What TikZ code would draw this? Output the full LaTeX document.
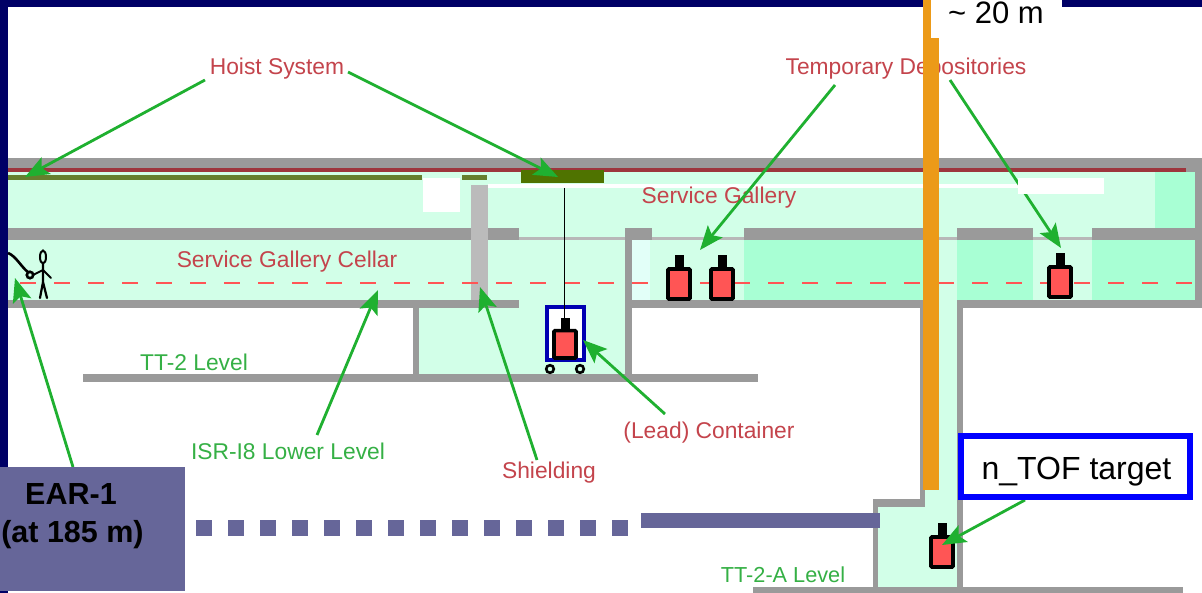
\documentclass[tikz,border=0pt]{standalone}
\usepackage{fontspec}
\setmainfont{Liberation Sans}
\usetikzlibrary{arrows.meta}
\definecolor{navy}{HTML}{000066}
\definecolor{mint}{HTML}{D2FFE8}
\definecolor{mintd}{HTML}{A8FFD4}
\definecolor{mintl}{HTML}{E2FFF8}
\definecolor{wall}{HTML}{9A9A9A}
\definecolor{shield}{HTML}{BBBBBB}
\definecolor{purp}{HTML}{666699}
\definecolor{ora}{HTML}{EC9A18}
\definecolor{olive}{HTML}{4F7300}
\definecolor{redl}{HTML}{C4444C}
\definecolor{grn}{HTML}{1FB030}
\definecolor{grt}{HTML}{35B045}
\definecolor{caskred}{HTML}{FF5555}
\tikzset{
  x=1pt,y=-1pt,
  arr/.style={draw=grn,line width=2.8pt,-{Stealth[length=24pt,width=19pt,inset=5pt]}},
  redlab/.style={text=redl,font=\fontsize{22.8}{24}\selectfont,inner sep=0pt},
  grnlab/.style={text=grt,font=\fontsize{22.8}{24}\selectfont,inner sep=0pt},
  wallf/.style={fill=wall,draw=none},
  pics/cask/.style={code={
    \fill[black] (-4.5,-44) rectangle (4.5,-28);
    \draw[black,line width=3.6pt,fill=caskred,rounded corners=1pt] (-11,-30) rectangle (11,0);
  }}
}
\begin{document}
\begin{tikzpicture}
\useasboundingbox (0,0) rectangle (1202,593);
\fill[white] (0,0) rectangle (1202,593);
% frame
\fill[navy] (0,0) rectangle (1202,7);
\fill[navy] (0,0) rectangle (8,593);
% service gallery
\fill[mint] (8,172) rectangle (1195,228);
\fill[mintd] (1155,172) rectangle (1195,228);
% cellar
\fill[mint] (8,240) rectangle (632,300);
\fill[mint] (418,300) rectangle (625,375);
\fill[mintl] (632,240) rectangle (650,300);
\fill[mint] (650,240) rectangle (744,300);
\fill[mintd] (744,240) rectangle (1195,300);
\fill[mint] (925,228) rectangle (957,590);
\fill[mint] (1033,228) rectangle (1092,300);
\fill[mint] (878,505) rectangle (957,588);
\fill[mint] (519,228) rectangle (625,240);
\fill[mint] (652,228) rectangle (744,240);
% walls
\fill[wallf] (8,158) rectangle (1202,172);
\fill[wallf] (1195,158) rectangle (1202,308);
\fill[wallf] (8,228) rectangle (519,240);
\fill[wallf] (625,228) rectangle (652,240);
\fill[wallf] (744,228) rectangle (923,240);
\fill[wallf] (957,228) rectangle (1033,240);
\fill[wallf] (1092,228) rectangle (1195,240);
\fill[wall!70] (519,237) rectangle (625,240);
\fill[wall!70] (652,237) rectangle (744,240);
\fill[wall!70] (923,237) rectangle (957,240);
\fill[wall!70] (1033,237) rectangle (1092,240);
\fill[wallf] (8,300) rectangle (519,308);
\fill[wallf] (632,300) rectangle (925,308);
\fill[wallf] (957,300) rectangle (1195,308);
\fill[wallf] (413,308) rectangle (419,375);
\fill[wallf] (625,228) rectangle (632,375);
\fill[wallf] (83,374) rectangle (758,382);
\fill[wallf] (920,300) rectangle (925,507);
\fill[wallf] (957,300) rectangle (963,590);
\fill[wallf] (873,499) rectangle (925,507);
\fill[wallf] (873,499) rectangle (878,590);
\fill[wallf] (753,587) rectangle (1183,593);
% shielding
\fill[shield] (471,185) rectangle (488,300);
% rails
\fill[redl!80!black] (8,168.5) rectangle (1186,172.5);
\fill[olive!70!wall] (8,175) rectangle (422,180);
\fill[olive!70!wall] (462,175) rectangle (487,180);
\fill[white] (423,178) rectangle (460,212);
\fill[white] (488,184.5) rectangle (1018,188);
% hoist
\node[fill=olive,minimum width=83pt,minimum height=13pt,inner sep=0pt] (hoistblock) at (562.5,176.5) {};
% dashed beam line
\coordinate (beamL) at (20,283);
\coordinate (beamR) at (1195,283);
\draw[draw=caskred,line width=1.8pt,dash pattern=on 16pt off 18pt] (beamL) -- (beamR);
% casks
\pic at (679,299) {cask};
\pic at (722,299) {cask};
\pic at (1060,297) {cask};
\pic at (942,567) {cask};
% container
\node[draw=blue!70!black,line width=4pt,fill=white,minimum width=37pt,minimum height=53pt,inner sep=0pt] (container) at (565,333.5) {};
\pic[yscale=0.91] at (565,358) {cask};
\draw[black,line width=2.6pt] (550,369) circle (3.8);
\draw[black,line width=2.6pt] (580,369) circle (3.8);
\coordinate (hookA) at (564.5,188);
\coordinate (hookB) at (564.5,320);
\draw[black,line width=1.8pt] (hookA) -- (hookB);
% person
\draw[black,line width=2pt] (43,257) ellipse (3 and 6.5);
\draw[black,line width=2.2pt,line cap=round] (43,263) -- (43,282) -- (40,298) (43,282) -- (47,298);
\draw[black,line width=2pt,line cap=round] (43,270) -- (33,275) (43,270) -- (51,278);
\draw[black,line width=2.6pt] (8,253) .. controls (16,256) and (22,268) .. (28,272);
\draw[black,line width=2.6pt] (30,275) circle (3.2);
% labels
\node[redlab] (hoist) at (277,68.5) {Hoist System};
\node[redlab] (temp) at (906,68.5) {Temporary Depositories};
\node[redlab] (sg) at (719,197.5) {Service Gallery};
\node[redlab] (sgc) at (287,262) {Service Gallery Cellar};
\node[grnlab] (tt2) at (194,362) {TT-2 Level};
\node[grnlab] (isr) at (288,451) {ISR-I8 Lower Level};
\node[redlab] (shieldlab) at (549,472.5) {Shielding};
\node[redlab] (lead) at (709,432.5) {(Lead) Container};
\node[grnlab,font=\fontsize{21.7}{24}\selectfont] (tt2a) at (783,575) {TT-2-A Level};
% arrow ends
\coordinate (h1s) at (205,80);
\coordinate (h1e) at (25,177);
\coordinate (h2s) at (348,72);
\coordinate (h2e) at (558,177);
\coordinate (d1s) at (835,85);
\coordinate (d1e) at (700,250);
\coordinate (d2s) at (950,80);
\coordinate (d2e) at (1061,248);
\coordinate (c1s) at (73,467);
\coordinate (c1e) at (15,278);
\coordinate (i1s) at (317,435);
\coordinate (i1e) at (378,290);
\coordinate (s1s) at (537,460);
\coordinate (s1e) at (480,287);
\coordinate (l1s) at (665,414);
\coordinate (l1e) at (583,340);
\coordinate (t1s) at (1025,500);
\coordinate (t1e) at (942,545);
\draw[arr] (h1s) -- (h1e);
\draw[arr] (h2s) -- (h2e);
\draw[arr] (d1s) -- (d1e);
\draw[arr] (d2s) -- (d2e);
\fill[white] (1018,178) rectangle (1104,194);
\draw[arr] (c1s) -- (c1e);
\draw[arr] (i1s) -- (i1e);
\draw[arr] (s1s) -- (s1e);
\draw[arr] (l1s) -- (l1e);
\draw[arr] (t1s) -- (t1e);
% orange rod, top label
\fill[white] (931,0) rectangle (1062,38);
\fill[ora] (923,0) rectangle (931,38);
\fill[ora] (923,38) rectangle (939,490);
\node[font=\fontsize{31}{32}\selectfont,inner sep=0pt,text=black] (dist) at (996,12.5) {\textasciitilde{} 20 m};
% n_TOF box
\node[draw=blue,line width=5.5pt,fill=white,minimum width=229pt,minimum height=61pt,inner sep=0pt] (target) at (1075.5,466.5) {};
\node[font=\fontsize{32}{34}\selectfont,inner sep=0pt] (targettext) at (1076.5,472) {n\_TOF target};
% purple
\node[fill=purp,minimum width=185pt,minimum height=124pt,inner sep=0pt] (ear) at (92.5,529) {};
\node[font=\bfseries\fontsize{30.5}{32}\selectfont,inner sep=0pt] (earA) at (71,494.5) {EAR-1};
\node[font=\bfseries\fontsize{30.5}{32}\selectfont,inner sep=0pt] (earB) at (72.5,535) {(at 185 m)};
\coordinate (dotL) at (196,527.5);
\coordinate (dotR) at (628,527.5);
\draw[draw=purp,line width=16pt,dash pattern=on 16pt off 16pt] (dotL) -- (dotR);
\node[fill=purp,minimum width=239pt,minimum height=15pt,inner sep=0pt] (bar) at (760.5,520.5) {};
\end{tikzpicture}
\end{document}
